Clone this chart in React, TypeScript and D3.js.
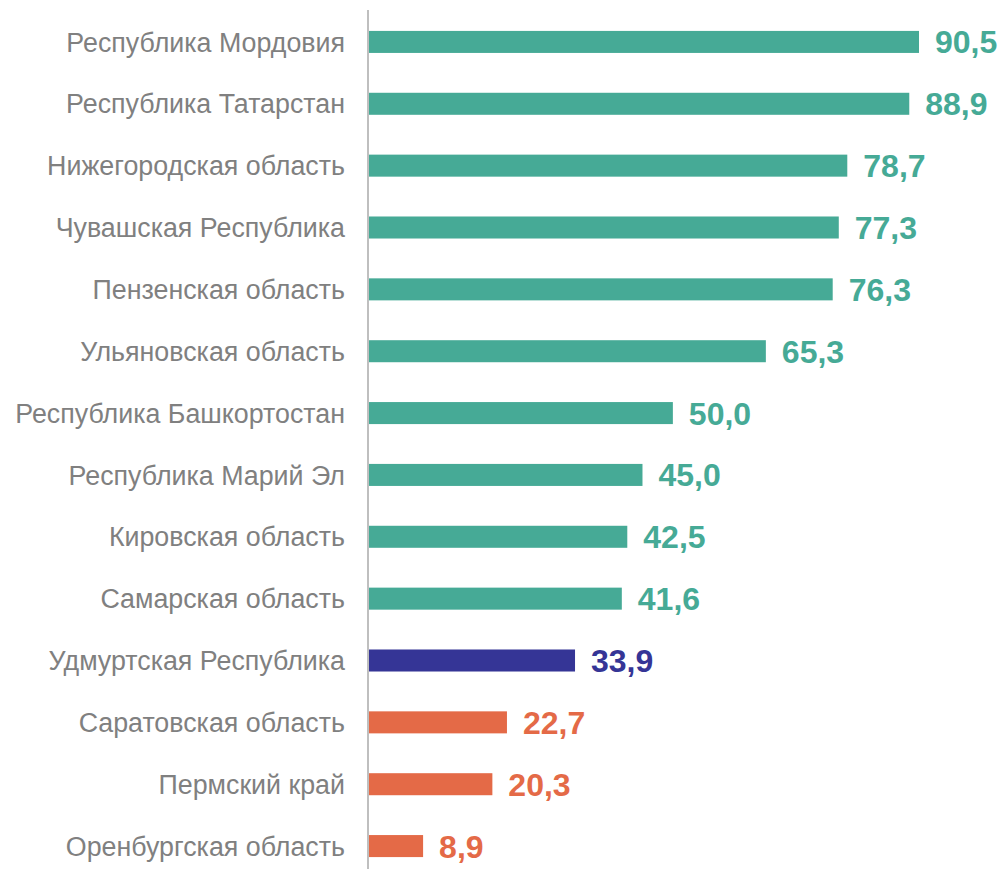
import React from "react";
import * as d3 from "d3";

const categories = [
  "Республика Мордовия",
  "Республика Татарстан",
  "Нижегородская область",
  "Чувашская Республика",
  "Пензенская область",
  "Ульяновская область",
  "Республика Башкортостан",
  "Республика Марий Эл",
  "Кировская область",
  "Самарская область",
  "Удмуртская Республика",
  "Саратовская область",
  "Пермский край",
  "Оренбургская область",
];
const values = [90.5, 88.9, 78.7, 77.3, 76.3, 65.3, 50.0, 45.0, 42.5, 41.6, 33.9, 22.7, 20.3, 8.9];
const groups = ["high", "high", "high", "high", "high", "high", "high", "high", "high", "high", "self", "low", "low", "low"];

const colorOf: Record<string, string> = { high: "#46AA96", self: "#353596", low: "#E46A47" };

const W = 1002;
const H = 869;
const X0 = 369;

export default function App() {
  const x = d3.scaleLinear().domain([0, 90.5]).range([X0, 919]);
  const y = d3.scaleBand<string>().domain(categories).range([11, 877]).paddingInner(0.644).paddingOuter(0.322);
  const fmt = (v: number) => v.toFixed(1).replace(".", ",");
  return (
    <svg width={W} height={H} style={{ position: "absolute", left: 0, top: 0, background: "#fff" }}
      fontFamily="'Liberation Sans', Arial, sans-serif">
      {categories.map((c, i) => {
        const yc = (y(c) as number) + y.bandwidth() / 2;
        return (
          <g key={c}>
            <rect x={X0} y={y(c)} width={x(values[i]) - X0} height={y.bandwidth()} fill={colorOf[groups[i]]} />
            <text x={345} y={yc} dy="0.36em" textAnchor="end" fontSize={26.8} fill="#808080">{c}</text>
            <text x={x(values[i]) + 16} y={yc} dy="0.36em" fontSize={32} fontWeight="bold" fill={colorOf[groups[i]]}>{fmt(values[i])}</text>
          </g>
        );
      })}
      <line x1={X0 - 1} x2={X0 - 1} y1={10} y2={869} stroke="#BFBFBF" strokeWidth={2} />
    </svg>
  );
}
